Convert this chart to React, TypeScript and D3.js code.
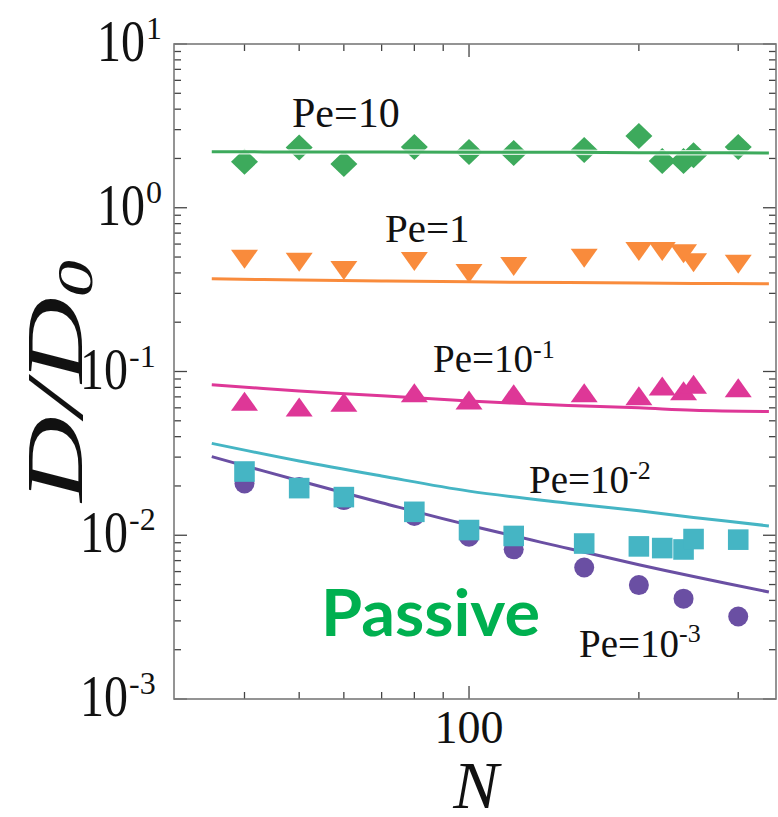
import React from "react";
import * as d3 from "d3";

// ---------- data ----------
const dataN = [40, 50, 60, 80, 100, 120, 160, 200, 220, 240, 250, 300];
const circleN = [40, 50, 60, 80, 100, 120, 160, 200, 240, 300];

const pe10 = [1.91, 2.33, 1.85, 2.35, 2.19, 2.16, 2.25, 2.74, 1.93, 1.93, 2.09, 2.35];
const pe1 = [0.507, 0.486, 0.433, 0.491, 0.415, 0.458, 0.514, 0.565, 0.565, 0.547, 0.482, 0.473];
const pe01 = [0.063, 0.058, 0.062, 0.071, 0.064, 0.07, 0.071, 0.068, 0.078, 0.073, 0.08, 0.076];
const pe001 = [0.0245, 0.0194, 0.0171, 0.0139, 0.01076, 0.0099, 0.0089, 0.00855, 0.00835, 0.00819, 0.00948, 0.0094];
const pe0001 = [0.0207, 0.0197, 0.0164, 0.0131, 0.0098, 0.0082, 0.00635, 0.00496, 0.0041, 0.00319];

const lineN = [35, 50, 70, 100, 150, 200, 250, 340];
const line10 = [2.2, 2.19, 2.19, 2.18, 2.18, 2.17, 2.17, 2.16];
const line1 = [0.368, 0.362, 0.357, 0.353, 0.349, 0.347, 0.345, 0.343];
const line01 = [0.083, 0.076, 0.071, 0.066, 0.062, 0.06, 0.058, 0.057];
const line001 = [0.0364, 0.0284, 0.023, 0.0186, 0.0157, 0.0141, 0.01285, 0.0114];
const line0001 = [0.0302, 0.0215, 0.0158, 0.0115, 0.0083, 0.0066, 0.0056, 0.0045];

const yTickExps = [1, 0, -1, -2, -3];
const xTickLabels = [100];
const xMinorTicks = [40, 50, 60, 70, 80, 90, 200, 300];

// ---------- colours ----------
const cGreen = "#3daa5c";
const cOrange = "#f98b3c";
const cMagenta = "#de3797";
const cCyan = "#45b5c4";
const cPurple = "#6a4fa3";

const W = 778;
const H = 817;
const L = 174, R = 776, T = 44, B = 699;

const x = d3.scaleLog().domain([30, 350]).range([L, R]);
const y = d3.scaleLog().domain([1e-3, 1e1]).range([B, T]);

const serif = "'Liberation Serif', 'Times New Roman', serif";

function linePath(vals: number[]) {
  const gen = d3
    .line<number>()
    .x((_, i) => x(lineN[i]))
    .y((d) => y(d))
    .curve(d3.curveCatmullRom);
  return gen(vals) || "";
}

const diamond = "M0,-13L13.5,0L0,13L-13.5,0Z";
const triDown = "M-13.5,-6.3L13.5,-6.3L0,12.7Z";
const triUp = "M-13.5,6.3L13.5,6.3L0,-12.7Z";
const square = "M-10.3,-10.3H10.3V10.3H-10.3Z";

export default function App() {
  const yMinor: number[] = [];
  for (let d = -3; d <= 0; d++) for (let m = 2; m <= 9; m++) yMinor.push(m * Math.pow(10, d));
  const yMajor = yTickExps.map((e) => Math.pow(10, e));

  const tickColor = "#444";

  return (
    <svg
      width={W}
      height={H}
      style={{ position: "absolute", left: 0, top: 0, background: "#fff" }}
      xmlns="http://www.w3.org/2000/svg"
    >
      <rect x={0} y={0} width={W} height={H} fill="#fff" />

      {/* ticks */}
      <g stroke={tickColor} strokeWidth={1.3}>
        {yMinor.map((v, i) => (
          <g key={"ym" + i}>
            <line x1={L} x2={L + 7} y1={y(v)} y2={y(v)} />
            <line x1={R} x2={R - 7} y1={y(v)} y2={y(v)} />
          </g>
        ))}
        {yMajor.map((v, i) => (
          <g key={"yM" + i}>
            <line x1={L} x2={L + 13} y1={y(v)} y2={y(v)} />
            <line x1={R} x2={R - 13} y1={y(v)} y2={y(v)} />
          </g>
        ))}
        {xMinorTicks.map((v, i) => (
          <g key={"xm" + i}>
            <line x1={x(v)} x2={x(v)} y1={B} y2={B - 7} />
            <line x1={x(v)} x2={x(v)} y1={T} y2={T + 7} />
          </g>
        ))}
        {xTickLabels.map((v, i) => (
          <g key={"xM" + i}>
            <line x1={x(v)} x2={x(v)} y1={B} y2={B - 13} />
            <line x1={x(v)} x2={x(v)} y1={T} y2={T + 13} />
          </g>
        ))}
      </g>

      {/* lines (under markers) */}
      <g fill="none" strokeWidth={3} strokeLinecap="butt">
        <path d={linePath(line1)} stroke={cOrange} />
        <path d={linePath(line01)} stroke={cMagenta} />
        <path d={linePath(line001)} stroke={cCyan} />
        <path d={linePath(line0001)} stroke={cPurple} />
      </g>

      {/* markers */}
      <g>
        {pe10.map((v, i) => (
          <path key={"g" + i} d={diamond} transform={`translate(${x(dataN[i])},${y(v)})`} fill={cGreen} />
        ))}
        {pe1.map((v, i) => (
          <path key={"o" + i} d={triDown} transform={`translate(${x(dataN[i])},${y(v)})`} fill={cOrange} />
        ))}
        {pe01.map((v, i) => (
          <path key={"m" + i} d={triUp} transform={`translate(${x(dataN[i])},${y(v)})`} fill={cMagenta} />
        ))}
        {pe0001.map((v, i) => (
          <circle key={"p" + i} cx={x(circleN[i])} cy={y(v)} r={10} fill={cPurple} />
        ))}
        {pe001.map((v, i) => (
          <path key={"c" + i} d={square} transform={`translate(${x(dataN[i])},${y(v)})`} fill={cCyan} />
        ))}
      </g>

      {/* green line on top, with light halo */}
      <path d={linePath(line10)} fill="none" stroke="#ffffff" strokeWidth={5.5} opacity={0.8} />
      <path d={linePath(line10)} fill="none" stroke={cGreen} strokeWidth={3} />

      {/* frame */}
      <rect x={L} y={T} width={R - L} height={B - T} fill="none" stroke="#7a7a7a" strokeWidth={1.6} />

      {/* y tick labels */}
      {yTickExps.map((e) => {
        const ty = y(Math.pow(10, e));
        const mainEnd = e < 0 ? 128 : 145;
        return (
          <g key={"yl" + e} fontFamily={serif} fill="#111">
            <text
              transform={`translate(${mainEnd},${ty + 17}) scale(0.8,1)`}
              textAnchor="end"
              fontSize={60}
            >
              10
            </text>
            <text x={mainEnd + 1} y={ty - 5} fontSize={32}>
              {String(e)}
            </text>
          </g>
        );
      })}

      {/* x tick labels */}
      {xTickLabels.map((v) => (
        <text key={"xl" + v} x={x(v)} y={743} textAnchor="middle" fontFamily={serif} fontSize={46} fill="#111">
          {String(v)}
        </text>
      ))}

      {/* axis titles */}
      <text x={476} y={808} textAnchor="middle" fontFamily={serif} fontStyle="italic" fontSize={68} fill="#111">
        N
      </text>
      <text
        transform="translate(82,381) rotate(-90)"
        textAnchor="middle"
        fontFamily={serif}
        fontStyle="italic"
        fontSize={80}
        fill="#111"
        textLength={242}
        lengthAdjust="spacingAndGlyphs"
      >
        D/D
        <tspan fontSize={50} dy={10}>0</tspan>
      </text>

      {/* series labels */}
      <g fontFamily={serif} fill="#111">
        <text x={292} y={127} fontSize={42}>Pe=10</text>
        <text x={385} y={242} fontSize={41}>Pe=1</text>
        <text x={433} y={372} fontSize={39}>
          Pe=10<tspan fontSize={26} dy={-14}>-1</tspan>
        </text>
        <text x={529} y={493} fontSize={39}>
          Pe=10<tspan fontSize={26} dy={-14}>-2</tspan>
        </text>
        <text x={579} y={657} fontSize={39}>
          Pe=10<tspan fontSize={26} dy={-15}>-3</tspan>
        </text>
      </g>

      <text
        x={321}
        y={636}
        fontFamily="Lato, 'Open Sans', sans-serif"
        fontWeight={700}
        fontSize={65}
        fill="#00b050"
        textLength={219}
        lengthAdjust="spacingAndGlyphs"
      >
        Passive
      </text>
    </svg>
  );
}
